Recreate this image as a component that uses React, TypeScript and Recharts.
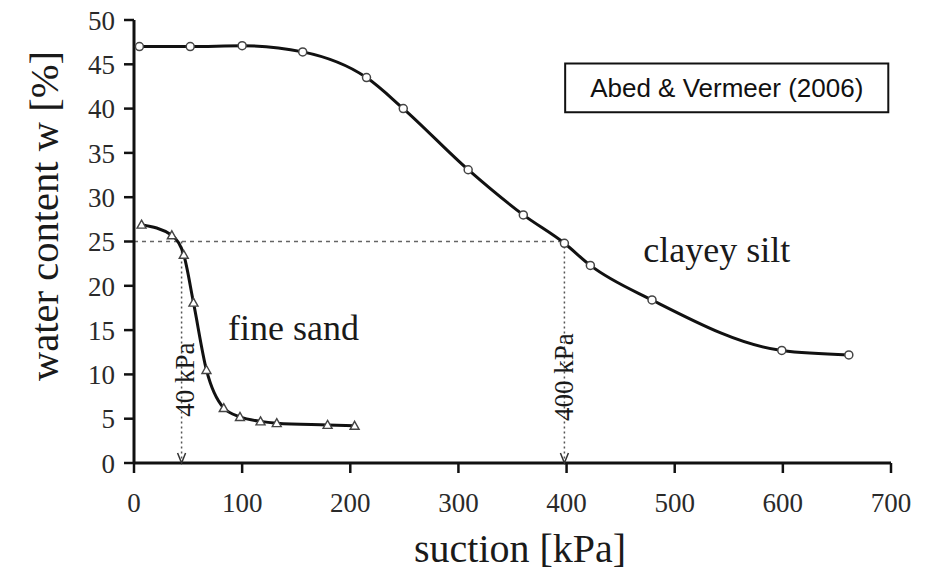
import { LineChart, Line, XAxis, YAxis, Label, ReferenceLine, ReferenceDot, ReferenceArea } from 'recharts'

// clayey silt (circles)
const claySuction = [5, 52, 100, 156, 215, 249, 309, 360, 398, 422, 479, 599, 661]
const clayWater = [47.0, 47.0, 47.1, 46.4, 43.5, 40.0, 33.1, 28.0, 24.8, 22.3, 18.4, 12.7, 12.2]

// fine sand (triangles)
const sandSuction = [7, 35, 46, 55, 67, 83, 98, 117, 132, 179, 204]
const sandWater = [26.9, 25.7, 23.5, 18.1, 10.5, 6.2, 5.2, 4.7, 4.5, 4.3, 4.2]

const xTicks = [0, 100, 200, 300, 400, 500, 600, 700]
const yTicks = [0, 5, 10, 15, 20, 25, 30, 35, 40, 45, 50]

const guideWater = 25
const sandSuctionAt25 = 44
const claySuctionAt25 = 398

const clayData = claySuction.map((s, i) => ({ s, w: clayWater[i] }))
const sandData = sandSuction.map((s, i) => ({ s, w: sandWater[i] }))

const serif = '"Liberation Serif", "Times New Roman", serif'
const sans = '"Liberation Sans", Arial, sans-serif'
const ink = '#1a1a1a'

const XTick = (p: any) => (
  <text x={p.x} y={p.y} dy="0.71em" textAnchor="middle" fontFamily={serif} fontSize={27} fill="#2a2a2a">
    {p.payload.value}
  </text>
)

const YTick = (p: any) => (
  <text x={p.x} y={p.y} dy="0.36em" textAnchor="end" fontFamily={serif} fontSize={27} fill="#2a2a2a">
    {p.payload.value}
  </text>
)

const triangleDot = (p: any) => (
  <path
    key={`tri-${p.index}`}
    d={`M${p.cx},${p.cy - 4.5} L${p.cx + 4.5},${p.cy + 3.5} L${p.cx - 4.5},${p.cy + 3.5} Z`}
    fill="#fff"
    stroke="#444"
    strokeWidth={1.4}
  />
)

const arrowHead = (p: any) => (
  <path
    d={`M${p.cx - 4},${p.cy - 10} L${p.cx},${p.cy} L${p.cx + 4},${p.cy - 10}`}
    fill="none"
    stroke="#333"
    strokeWidth={1.5}
  />
)

const rotatedText = (text: string, dx: number) => (p: any) => (
  <text
    x={p.cx + dx}
    y={p.cy}
    transform={`rotate(-90, ${p.cx + dx}, ${p.cy})`}
    textAnchor="middle"
    dominantBaseline="central"
    fontFamily={serif}
    fontSize={27}
    fill={ink}
  >
    {text}
  </text>
)

const plainText = (text: string) => (p: any) => (
  <text x={p.cx} y={p.cy} textAnchor="start" fontFamily={serif} fontSize={36} fill={ink}>
    {text}
  </text>
)

const yTitle = (props: any) => {
  const vb = props.viewBox || { x: 0, y: 20 }
  const x = vb.x + 58
  const y = vb.y + 196
  return (
    <text
      x={x}
      y={y}
      transform={`rotate(-90, ${x}, ${y})`}
      textAnchor="middle"
      fontFamily={serif}
      fontSize={40}
      fill={ink}
      textLength={330}
      lengthAdjust="spacingAndGlyphs"
    >
      water content w [%]
    </text>
  )
}

const xTitle = (props: any) => {
  const vb = props.viewBox || { x: 134, y: 463 }
  return (
    <text
      x={vb.x + 386}
      y={vb.y + 99}
      textAnchor="middle"
      fontFamily={serif}
      fontSize={40}
      fill={ink}
      textLength={212}
      lengthAdjust="spacingAndGlyphs"
    >
      suction [kPa]
    </text>
  )
}

export default function App() {
  return (
    <div style={{ position: 'absolute', left: 0, top: 0, background: '#fff' }}>
      <LineChart width={939} height={573} margin={{ top: 20, right: 48, bottom: 0, left: 0 }}>
        <XAxis
          type="number"
          dataKey="s"
          domain={[0, 700]}
          ticks={xTicks}
          interval={0}
          height={110}
          tickSize={10}
          tickMargin={20}
          axisLine={{ stroke: '#111', strokeWidth: 3 }}
          tickLine={{ stroke: '#111', strokeWidth: 2.5 }}
          tick={<XTick />}
        >
          <Label content={xTitle} />
        </XAxis>
        <YAxis
          type="number"
          domain={[0, 50]}
          ticks={yTicks}
          interval={0}
          width={134}
          tickSize={10}
          tickMargin={9}
          axisLine={{ stroke: '#111', strokeWidth: 3 }}
          tickLine={{ stroke: '#111', strokeWidth: 2.5 }}
          tick={<YTick />}
        >
          <Label content={yTitle} />
        </YAxis>

        <ReferenceArea
          x1={398.7}
          x2={697.5}
          y1={39.6}
          y2={45.1}
          fill="#fff"
          fillOpacity={1}
          stroke="#111"
          strokeWidth={2}
          ifOverflow="visible"
          label={{ value: 'Abed & Vermeer (2006)', position: 'center', fontSize: 26, fontFamily: sans, fill: '#111' }}
        />

        <ReferenceLine
          segment={[{ x: 0, y: guideWater }, { x: claySuctionAt25, y: guideWater }]}
          stroke="#666"
          strokeWidth={1.5}
          strokeDasharray="4 4"
        />
        <ReferenceLine
          segment={[{ x: sandSuctionAt25, y: guideWater }, { x: sandSuctionAt25, y: 0 }]}
          stroke="#555"
          strokeWidth={1.5}
          strokeDasharray="2 3"
        />
        <ReferenceLine
          segment={[{ x: claySuctionAt25, y: guideWater }, { x: claySuctionAt25, y: 0 }]}
          stroke="#555"
          strokeWidth={1.5}
          strokeDasharray="2 3"
        />
        <ReferenceDot x={sandSuctionAt25} y={0} r={0} ifOverflow="visible" shape={arrowHead} />
        <ReferenceDot x={claySuctionAt25} y={0} r={0} ifOverflow="visible" shape={arrowHead} />

        <ReferenceDot x={sandSuctionAt25} y={9.4} r={0} shape={rotatedText('40 kPa', 3)} />
        <ReferenceDot x={claySuctionAt25} y={9.7} r={0} shape={rotatedText('400 kPa', 0)} />
        <ReferenceDot x={87} y={13.9} r={0} shape={plainText('fine sand')} />
        <ReferenceDot x={471} y={22.7} r={0} shape={plainText('clayey silt')} />

        <Line
          data={sandData}
          dataKey="w"
          type="monotone"
          stroke="#111"
          strokeWidth={3}
          dot={triangleDot}
          isAnimationActive={false}
        />
        <Line
          data={clayData}
          dataKey="w"
          type="monotone"
          stroke="#111"
          strokeWidth={3}
          dot={{ r: 4, fill: '#fff', stroke: '#444', strokeWidth: 1.5 }}
          isAnimationActive={false}
        />
      </LineChart>
    </div>
  )
}
